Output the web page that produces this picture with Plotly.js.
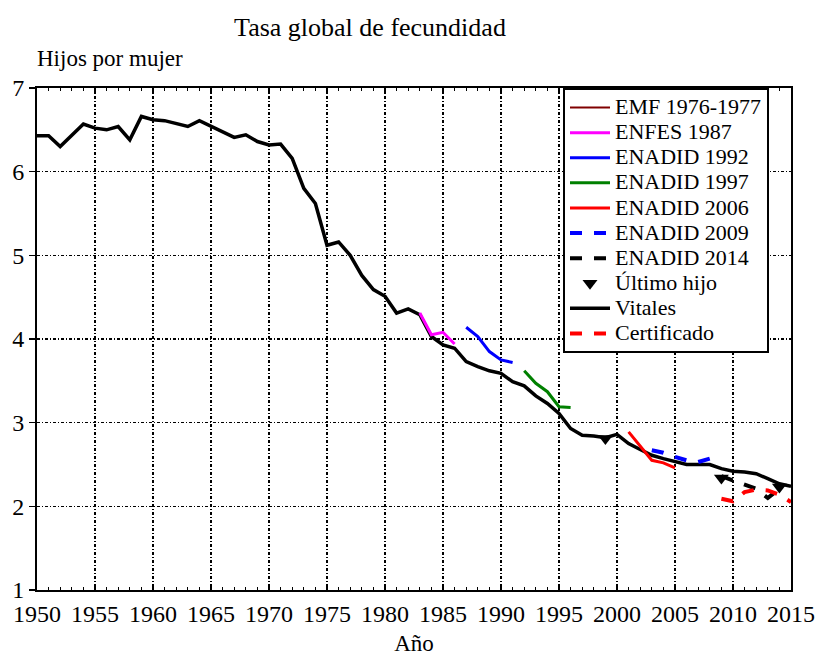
<!DOCTYPE html>
<html>
<head>
<meta charset="utf-8">
<script src="https://cdn.plot.ly/plotly-3.0.1.min.js"></script>
<style>html,body{margin:0;padding:0;background:#fff;}#chart{width:819px;height:656px;}</style>
</head>
<body>
<div id="chart"></div>
<script>
// ---- data ----
const vitalesYears = [1950,1951,1952,1953,1954,1955,1956,1957,1958,1959,1960,1961,1962,1963,1964,1965,1966,1967,1968,1969,1970,1971,1972,1973,1974,1975,1976,1977,1978,1979,1980,1981,1982,1983,1984,1985,1986,1987,1988,1989,1990,1991,1992,1993,1994,1995,1996,1997,1998,1999,2000,2001,2002,2003,2004,2005,2006,2007,2008,2009,2010,2011,2012,2013,2014,2015];
const vitalesTGF = [6.43,6.43,6.30,6.43,6.57,6.52,6.50,6.54,6.38,6.66,6.62,6.61,6.57,6.54,6.61,6.54,6.48,6.41,6.44,6.36,6.32,6.33,6.16,5.80,5.62,5.12,5.16,5.00,4.76,4.59,4.51,4.31,4.36,4.29,4.03,3.93,3.89,3.73,3.67,3.62,3.59,3.49,3.44,3.32,3.23,3.11,2.93,2.85,2.84,2.82,2.86,2.75,2.68,2.61,2.57,2.53,2.50,2.50,2.50,2.45,2.42,2.41,2.39,2.33,2.27,2.24];

const emfYears = [1971,1972,1973,1974,1975,1976];
const emfTGF = [6.33,6.16,5.80,5.62,5.12,5.16];

const enfesYears = [1983,1984,1985,1986];
const enfesTGF = [4.31,4.05,4.08,3.94];

const enadid92Years = [1987,1988,1989,1990,1991];
const enadid92TGF = [4.14,4.03,3.85,3.75,3.72];

const enadid97Years = [1992,1993,1994,1995,1996];
const enadid97TGF = [3.62,3.47,3.37,3.19,3.18];

const enadid06Years = [2001,2002,2003,2004,2005];
const enadid06TGF = [2.89,2.72,2.55,2.52,2.46];

const enadid09Years = [2003,2004,2005,2006,2007,2008];
const enadid09TGF = [2.67,2.64,2.59,2.55,2.53,2.57];

const enadid14Years = [2009,2010,2011,2012,2013,2014];
const enadid14TGF = [2.36,2.31,2.26,2.21,2.10,2.21];

const ultimoYears = [1999,2009,2014];
const ultimoTGF = [2.81,2.34,2.23];

const certYears = [2009,2010,2011,2012,2013,2014,2015];
const certTGF = [2.09,2.06,2.17,2.20,2.19,2.14,2.05];

const xTicks = [1950,1955,1960,1965,1970,1975,1980,1985,1990,1995,2000,2005,2010,2015];
const yTicks = [1,2,3,4,5,6,7];

// ---- chart ----
const FONT = 'Liberation Serif';
const LEG = s => '<span style="font-size:22px">' + s + '</span>';
const traces = [
  {x: emfYears, y: emfTGF, name: 'EMF 1976-1977', mode: 'lines', line: {color: '#800000', width: 2}},
  {x: enfesYears, y: enfesTGF, name: 'ENFES 1987', mode: 'lines', line: {color: '#ff00ff', width: 3}},
  {x: enadid92Years, y: enadid92TGF, name: 'ENADID 1992', mode: 'lines', line: {color: '#0000ff', width: 3}},
  {x: enadid97Years, y: enadid97TGF, name: 'ENADID 1997', mode: 'lines', line: {color: '#008000', width: 3}},
  {x: enadid06Years, y: enadid06TGF, name: 'ENADID 2006', mode: 'lines', line: {color: '#ff0000', width: 3}},
  {x: enadid09Years, y: enadid09TGF, name: 'ENADID 2009', mode: 'lines', line: {color: '#0000ff', width: 4, dash: 'dash'}},
  {x: enadid14Years, y: enadid14TGF, name: 'ENADID 2014', mode: 'lines', line: {color: '#000000', width: 4, dash: 'dash'}},
  {x: ultimoYears, y: ultimoTGF, name: 'Último hijo', mode: 'markers', marker: {symbol: 'triangle-down', size: 13, color: '#000000'}},
  {x: vitalesYears, y: vitalesTGF, name: 'Vitales', mode: 'lines', line: {color: '#000000', width: 3.5}},
  {x: certYears, y: certTGF, name: 'Certificado', mode: 'lines', line: {color: '#ff0000', width: 4, dash: 'dash'}}
];
const order = [0, 8, 1, 2, 3, 4, 5, 6, 9, 7];
const data = order.map(i => traces[i]);
const legendRank = {'EMF 1976-1977':1,'ENFES 1987':2,'ENADID 1992':3,'ENADID 1997':4,'ENADID 2006':5,'ENADID 2009':6,'ENADID 2014':7,'Último hijo':8,'Vitales':9,'Certificado':10};
data.forEach(t => { t.legendrank = legendRank[t.name]; t.name = LEG(t.name); });

const layout = {
  width: 819, height: 656,
  paper_bgcolor: '#ffffff', plot_bgcolor: '#ffffff',
  margin: {l: 37, r: 28, t: 88, b: 66},
  font: {family: FONT, size: 19, color: '#000'},
  showlegend: true,
  title: {text: 'Tasa global de fecundidad', font: {family: FONT, size: 26, color: '#000'}, x: 370/819, xanchor: 'center', y: 1 - 27/656, yanchor: 'middle'},
  xaxis: {
    range: [1950, 2015], tickvals: xTicks, ticktext: xTicks.map(String),
    showline: true, linecolor: '#000', linewidth: 2, mirror: 'allticks',
    ticks: 'inside', ticklen: 5, tickwidth: 1.2, tickcolor: '#000',
    minor: {dtick: 1, ticks: 'inside', ticklen: 3, tickcolor: '#000', tickwidth: 1, showgrid: false},
    showgrid: true, gridcolor: '#000', gridwidth: 1.5, griddash: '3px,2px,1px,2px',
    zeroline: false, tickfont: {family: FONT, size: 24, color: '#000'}, ticklabelstandoff: 1,
    title: {text: 'Año', font: {family: FONT, size: 23, color: '#000'}, standoff: 10}
  },
  yaxis: {
    range: [1, 7], tickvals: yTicks, ticktext: yTicks.map(String),
    showline: true, linecolor: '#000', linewidth: 2, mirror: true,
    ticks: 'outside', ticklen: 6, tickwidth: 1.2, tickcolor: '#000',
    showgrid: true, gridcolor: '#000', gridwidth: 1.5, griddash: '3px,2px,1px,2px',
    zeroline: false, tickfont: {family: FONT, size: 24, color: '#000'}
  },
  legend: {
    x: (563 - 37) / 754, xanchor: 'left', y: 1, yanchor: 'top',
    bgcolor: '#ffffff', bordercolor: '#000', borderwidth: 2,
    font: {family: FONT, size: 17, color: '#000'},
    traceorder: 'normal', itemwidth: 40, tracegroupgap: 0
  },
  annotations: [
    {text: 'Hijos por mujer', xref: 'paper', yref: 'paper', x: (35 - 37) / 754, xanchor: 'left', y: 1 + (88-58)/502, yanchor: 'middle', showarrow: false, font: {family: FONT, size: 23, color: '#000'}}
  ]
};

Plotly.newPlot('chart', data, layout, {displayModeBar: false, staticPlot: true});
</script>
</body>
</html>
